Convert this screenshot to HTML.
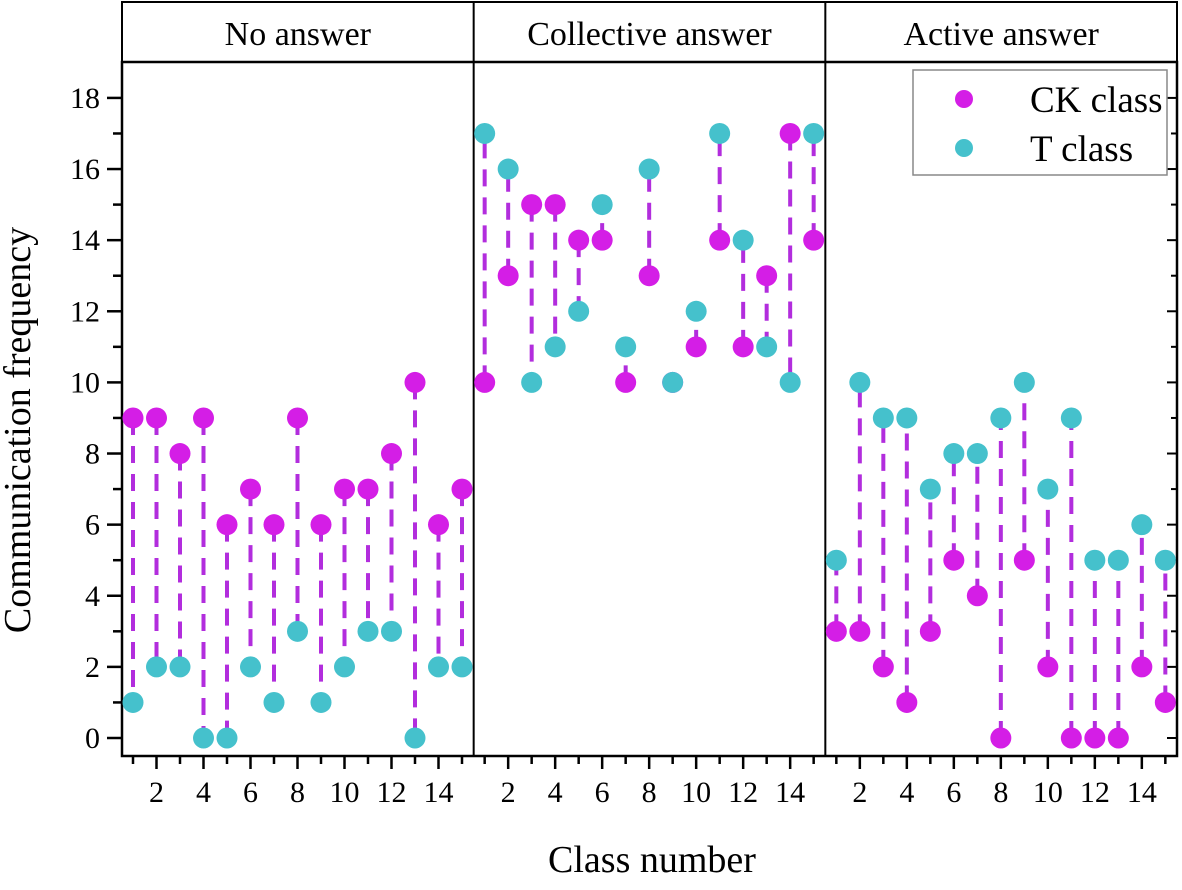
<!DOCTYPE html>
<html><head><meta charset="utf-8"><style>
body{margin:0;background:#fff;}
svg{display:block;font-family:"Liberation Serif",serif;}
</style></head><body>
<svg id="c" width="1182" height="890"></svg>
<script>
const panels=["No answer","Collective answer","Active answer"];
const classes=[1,2,3,4,5,6,7,8,9,10,11,12,13,14,15];
const ckNo=[9,9,8,9,6,7,6,9,6,7,7,8,10,6,7];
const tNo=[1,2,2,0,0,2,1,3,1,2,3,3,0,2,2];
const ckCol=[10,13,15,15,14,14,10,13,10,11,14,11,13,17,14];
const tCol=[17,16,10,11,12,15,11,16,10,12,17,14,11,10,17];
const ckAct=[3,3,2,1,3,5,4,0,5,2,0,0,0,2,1];
const tAct=[5,10,9,9,7,8,8,9,10,7,9,5,5,6,5];
const yTicks=[0,2,4,6,8,10,12,14,16,18];
const xTicks=[2,4,6,8,10,12,14];
const ck=[ckNo,ckCol,ckAct], tt=[tNo,tCol,tAct];
const NS="http://www.w3.org/2000/svg", svg=document.getElementById('c');
function el(t,a,p){const e=document.createElementNS(NS,t);for(const k in a)e.setAttribute(k,a[k]);(p||svg).appendChild(e);return e;}
const L=122,R=1177,T=62,B=756,panelW=(R-L)/3;
const y=v=>738-v*35.56;
const x=(p,c)=>L+p*panelW+11+(c-1)*23.5;
const CK="#d41ee6",TC="#45c1cc";
let hb=el('rect',{x:L,y:2,width:R-L,height:T-2,fill:'#fff',stroke:'#000','stroke-width':2});

panels.forEach((n,i)=>{
 const t=el('text',{x:L+panelW*(i+.5),y:45,'text-anchor':'middle','font-size':34});t.textContent=n;
 
 if(i>0){el('line',{x1:L+panelW*i,y1:2,x2:L+panelW*i,y2:B,stroke:'#000','stroke-width':2});}
});
let fr=el('rect',{x:L,y:T,width:R-L,height:B-T,fill:'none',stroke:'#000','stroke-width':2.5});

for(let v=0;v<=18;v++){
 const maj=v%2==0;
 el('line',{x1:L-(maj?15:9),y1:y(v),x2:L,y2:y(v),stroke:'#000','stroke-width':2.5});
 el('line',{x1:R,y1:y(v),x2:R-(maj?10:6),y2:y(v),stroke:'#000','stroke-width':2});
}
yTicks.forEach(v=>{const t=el('text',{x:L-22,y:y(v)+10,'text-anchor':'end','font-size':30});t.textContent=v;
 });
const yt=el('text',{x:30,y:430,'text-anchor':'middle','font-size':38,transform:'rotate(-90 30 430)'});yt.textContent='Communication frequency';

const xt=el('text',{x:652,y:872,'text-anchor':'middle','font-size':38});xt.textContent='Class number';

for(let p=0;p<3;p++){
 classes.forEach(c=>{const maj=c%2==0;el('line',{x1:x(p,c),y1:B,x2:x(p,c),y2:B+(maj?13:8),stroke:'#000','stroke-width':2.5});});
 xTicks.forEach(c=>{const t=el('text',{x:x(p,c),y:B+46,'text-anchor':'middle','font-size':30});t.textContent=c;
  });
 const g=el('g',{});
 
 classes.forEach((c,i)=>{
  const a=ck[p][i],b=tt[p][i],cx=x(p,c);
  const ln=el('line',{x1:cx,y1:y(a),x2:cx,y2:y(b),stroke:'#b22ddd','stroke-width':4,'stroke-dasharray':'17 11'},g);
  
 });
 classes.forEach((c,i)=>{
  const m=el('circle',{cx:x(p,c),cy:y(ck[p][i]),r:10.5,fill:CK},g);
  
 });
 classes.forEach((c,i)=>{
  const m=el('circle',{cx:x(p,c),cy:y(tt[p][i]),r:10.5,fill:TC},g);
  
 });
}
const lg=el('g',{});
el('rect',{x:913,y:70,width:254,height:105,fill:'#fff',stroke:'#888','stroke-width':1.5},lg);
el('circle',{cx:964,cy:99,r:9,fill:CK},lg);
el('circle',{cx:964,cy:148,r:9,fill:TC},lg);
const l1=el('text',{x:1030,y:112,'font-size':37},lg);l1.textContent='CK class';

const l2=el('text',{x:1030,y:161,'font-size':37},lg);l2.textContent='T class';

</script>
</body></html>
